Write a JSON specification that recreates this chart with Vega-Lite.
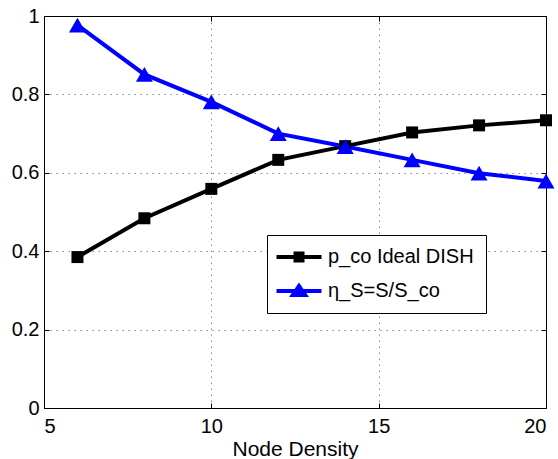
{
  "$schema": "https://vega.github.io/schema/vega-lite/v6.json",
  "width": 502,
  "height": 392,
  "autosize": "none",
  "padding": {"left": 44, "top": 16, "right": 12, "bottom": 51},
  "config": {
    "font": "Liberation Sans",
    "view": {"stroke": null},
    "point": {"opacity": 1},
    "axis": {
      "domainColor": "#000000",
      "domainWidth": 1,
      "tickColor": "#000000",
      "tickWidth": 1,
      "labelColor": "#000000",
      "titleColor": "#000000",
      "labelFontSize": 20,
      "titleFontSize": 21,
      "titleFontWeight": "normal",
      "gridColor": "#888888",
      "gridDash": [1.5, 4.5],
      "gridWidth": 1
    }
  },
  "data": {
    "values": [
      {"x": 6, "value": 0.385, "series": "p_co Ideal DISH"},
      {"x": 8, "value": 0.484, "series": "p_co Ideal DISH"},
      {"x": 10, "value": 0.559, "series": "p_co Ideal DISH"},
      {"x": 12, "value": 0.633, "series": "p_co Ideal DISH"},
      {"x": 14, "value": 0.668, "series": "p_co Ideal DISH"},
      {"x": 16, "value": 0.703, "series": "p_co Ideal DISH"},
      {"x": 18, "value": 0.721, "series": "p_co Ideal DISH"},
      {"x": 20, "value": 0.734, "series": "p_co Ideal DISH"},
      {"x": 6, "value": 0.977, "series": "η_S=S/S_co"},
      {"x": 8, "value": 0.851, "series": "η_S=S/S_co"},
      {"x": 10, "value": 0.781, "series": "η_S=S/S_co"},
      {"x": 12, "value": 0.700, "series": "η_S=S/S_co"},
      {"x": 14, "value": 0.667, "series": "η_S=S/S_co"},
      {"x": 16, "value": 0.633, "series": "η_S=S/S_co"},
      {"x": 18, "value": 0.599, "series": "η_S=S/S_co"},
      {"x": 20, "value": 0.579, "series": "η_S=S/S_co"}
    ]
  },
  "resolve": {"axis": {"x": "independent", "y": "independent"}},
  "layer": [
    {
      "mark": {"type": "line", "strokeWidth": 4, "clip": false},
      "encoding": {
        "x": {
          "field": "x", "type": "quantitative",
          "scale": {"domain": [5, 20], "nice": false, "zero": false},
          "axis": {
            "orient": "bottom", "values": [5, 10, 15, 20], "grid": true,
            "tickSize": -5, "labelPadding": 13, "title": "Node Density", "titlePadding": 2
          }
        },
        "y": {
          "field": "value", "type": "quantitative",
          "scale": {"domain": [0, 1], "nice": false},
          "axis": {
            "orient": "left", "values": [0, 0.2, 0.4, 0.6, 0.8, 1], "format": "~g", "grid": true,
            "tickSize": -5, "labelPadding": 10, "title": null
          }
        },
        "color": {
          "field": "series", "type": "nominal",
          "scale": {"domain": ["p_co Ideal DISH", "η_S=S/S_co"], "range": ["#000000", "#0000ff"]},
          "legend": {
            "title": null,
            "orient": "none",
            "legendX": 223,
            "legendY": 219,
            "fillColor": "#ffffff",
            "strokeColor": "#000000",
            "cornerRadius": 0,
            "padding": 12,
            "symbolOffset": 10,
            "labelOffset": 19,
            "rowPadding": 14,
            "symbolSize": 400,
            "symbolStrokeWidth": 0,
            "labelFontSize": 20,
            "labelColor": "#000000",
            "labelLimit": 400,
            "encoding": {
              "symbols": {
                "shape": {"value": {"expr": "datum.value === 'p_co Ideal DISH' ? 'M-2.25,-0.2L2.25,-0.2L2.25,0.2L-2.25,0.2ZM-0.55,-0.55L0.55,-0.55L0.55,0.55L-0.55,0.55Z' : 'M-2.25,-0.2L2.25,-0.2L2.25,0.2L-2.25,0.2ZM0,-0.85L1,0.6L-1,0.6Z'"}},
                "fill": {"value": {"expr": "datum.value === 'p_co Ideal DISH' ? '#000000' : '#0000ff'"}},
                "strokeWidth": {"value": 0}
              }
            }
          }
        }
      }
    },
    {
      "mark": {"type": "point", "filled": true, "strokeWidth": 0, "clip": false},
      "encoding": {
        "x": {
          "field": "x", "type": "quantitative",
          "axis": {"orient": "top", "values": [5, 10, 15, 20], "labels": false, "grid": false, "tickSize": -5, "title": null}
        },
        "y": {
          "field": "value", "type": "quantitative",
          "axis": {"orient": "right", "values": [0, 0.2, 0.4, 0.6, 0.8, 1], "labels": false, "grid": false, "tickSize": -5, "title": null}
        },
        "fill": {
          "field": "series", "type": "nominal",
          "scale": {"domain": ["p_co Ideal DISH", "η_S=S/S_co"], "range": ["#000000", "#0000ff"]},
          "legend": null
        },
        "shape": {
          "condition": {"test": "datum.series === 'p_co Ideal DISH'", "value": "square"},
          "value": "triangle-up"
        },
        "size": {
          "condition": {"test": "datum.series === 'p_co Ideal DISH'", "value": 144},
          "value": 290
        }
      }
    }
  ]
}
